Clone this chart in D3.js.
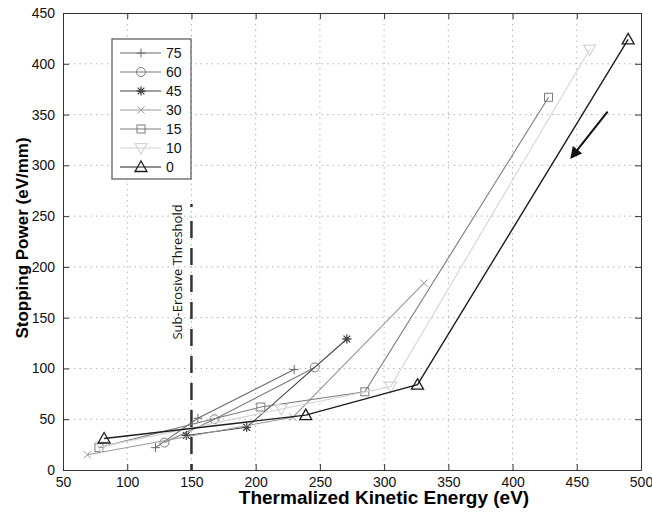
<!DOCTYPE html>
<html>
<head>
<meta charset="utf-8">
<script src="https://cdn.jsdelivr.net/npm/d3@7"></script>
<style>
  body { margin: 0; background: #fff; }
  svg { display: block; }
</style>
</head>
<body>
<div id="chart"></div>
<script>
'use strict';

// values: energy (eV) vs stopping power (eV/mm), by angle
var angles = ['75', '60', '45', '30', '15', '10', '0'];

var energy75 = [122, 155, 230];
var power75 = [22, 51, 99];
var energy60 = [129, 168, 246];
var power60 = [27, 50, 101];
var energy45 = [146, 193, 271];
var power45 = [34, 42, 129];
var energy30 = [69, 229, 331];
var power30 = [15, 52, 184];
var energy15 = [78, 204, 285, 428];
var power15 = [22, 62, 77, 367];
var energy10 = [80, 220, 305, 460];
var power10 = [23, 60, 82, 414];
var energy0 = [82, 239, 326, 490];
var power0 = [31, 54, 84, 424];

var xTicks = [50, 100, 150, 200, 250, 300, 350, 400, 450, 500];
var yTicks = [0, 50, 100, 150, 200, 250, 300, 350, 400, 450];

var thresholdEnergy = 150;
var thresholdTop = 262;
var arrowFrom = [474, 353];
var arrowTo = [446, 308];

var width = 652, height = 513;
var margin = { left: 63, right: 11, top: 13, bottom: 43 };
var innerWidth = width - margin.left - margin.right;
var innerHeight = height - margin.top - margin.bottom;

var styles = {
  '75': { color: '#6a6a6a', shape: 'plus' },
  '60': { color: '#7a7a7a', shape: 'circle' },
  '45': { color: '#444', shape: 'star' },
  '30': { color: '#9a9a9a', shape: 'cross' },
  '15': { color: '#7c7c7c', shape: 'square' },
  '10': { color: '#d4d4d4', shape: 'down' },
  '0': { color: '#1e1e1e', shape: 'up' }
};

var series = [
  { name: '75', x: energy75, y: power75 },
  { name: '60', x: energy60, y: power60 },
  { name: '45', x: energy45, y: power45 },
  { name: '30', x: energy30, y: power30 },
  { name: '15', x: energy15, y: power15 },
  { name: '10', x: energy10, y: power10 },
  { name: '0', x: energy0, y: power0 }
].map(function(s) {
  return { name: s.name, points: s.x.map(function(v, i) { return { e: v, p: s.y[i] }; }) };
});

var svg = d3.select('#chart').append('svg')
  .attr('width', width)
  .attr('height', height);

var chart = svg.append('g')
  .attr('transform', 'translate(' + margin.left + ',' + margin.top + ')');

var xScale = d3.scaleLinear().domain([50, 500]).range([0, innerWidth]);
var yScale = d3.scaleLinear().domain([0, 450]).range([innerHeight, 0]);

// dotted grid
chart.append('g').selectAll('line.vgrid')
  .data(xTicks.slice(1, -1))
  .enter().append('line')
  .attr('x1', function(d) { return xScale(d); })
  .attr('x2', function(d) { return xScale(d); })
  .attr('y1', 0).attr('y2', innerHeight)
  .attr('stroke', '#b4b4b4').attr('stroke-width', 1)
  .attr('stroke-dasharray', '1.5,4');

chart.append('g').selectAll('line.hgrid')
  .data(yTicks.slice(1, -1))
  .enter().append('line')
  .attr('y1', function(d) { return yScale(d); })
  .attr('y2', function(d) { return yScale(d); })
  .attr('x1', 0).attr('x2', innerWidth)
  .attr('stroke', '#b4b4b4').attr('stroke-width', 1)
  .attr('stroke-dasharray', '1.5,4');

// axes with inward ticks on all four sides
var font = '"Liberation Sans", Arial, sans-serif';

function styleAxis(g) {
  g.select('.domain').attr('stroke', '#333');
  g.selectAll('line').attr('stroke', '#333');
  g.selectAll('text').attr('font-family', font).attr('font-size', 14).attr('fill', '#111');
}

chart.append('g')
  .attr('transform', 'translate(0,' + innerHeight + ')')
  .call(d3.axisBottom(xScale).tickValues(xTicks).tickSizeInner(-6).tickSizeOuter(0).tickPadding(7))
  .call(styleAxis);

chart.append('g')
  .call(d3.axisLeft(yScale).tickValues(yTicks).tickSizeInner(-6).tickSizeOuter(0).tickPadding(8))
  .call(styleAxis);

chart.append('g')
  .call(d3.axisTop(xScale).tickValues(xTicks).tickSizeInner(-6).tickSizeOuter(0))
  .call(styleAxis)
  .call(function(g) { g.selectAll('text').remove(); });

chart.append('g')
  .attr('transform', 'translate(' + innerWidth + ',0)')
  .call(d3.axisRight(yScale).tickValues(yTicks).tickSizeInner(-6).tickSizeOuter(0))
  .call(styleAxis)
  .call(function(g) { g.selectAll('text').remove(); });

// axis titles
svg.append('text')
  .attr('x', 384)
  .attr('y', 504)
  .attr('text-anchor', 'middle')
  .attr('font-family', font)
  .attr('font-weight', 'bold')
  .attr('font-size', 19)
  .text('Thermalized Kinetic Energy (eV)');

svg.append('text')
  .attr('transform', 'translate(28,238) rotate(-90)')
  .attr('text-anchor', 'middle')
  .attr('font-family', font)
  .attr('font-weight', 'bold')
  .attr('font-size', 17)
  .text('Stopping Power (eV/mm)');

// sub-erosive threshold
chart.append('line')
  .attr('x1', xScale(thresholdEnergy)).attr('x2', xScale(thresholdEnergy))
  .attr('y1', yScale(thresholdTop)).attr('y2', yScale(0))
  .attr('stroke', '#333').attr('stroke-width', 2.5)
  .attr('stroke-dasharray', '3,14,17,10,17,10,17,10,17,10,17,10,17,10,17,10,17,10,17,10,17,10,17,10');

chart.append('text')
  .attr('transform', 'translate(' + (xScale(thresholdEnergy) - 9) + ',' + yScale(195) + ') rotate(-90)')
  .attr('text-anchor', 'middle')
  .attr('font-family', '"Open Sans", sans-serif')
  .attr('font-size', 13)
  .attr('fill', '#111')
  .text('Sub-Erosive Threshold');

// marker shapes
function drawMarker(g, shape, color) {
  var r = 4.5;
  if (shape === 'plus') {
    g.append('path').attr('d', 'M' + -r + ',0H' + r + 'M0,' + -r + 'V' + r)
      .attr('stroke', color).attr('fill', 'none');
  } else if (shape === 'cross') {
    var c = r * 0.8;
    g.append('path').attr('d', 'M' + -c + ',' + -c + 'L' + c + ',' + c + 'M' + -c + ',' + c + 'L' + c + ',' + -c)
      .attr('stroke', color).attr('fill', 'none');
  } else if (shape === 'star') {
    var k = r * 0.75;
    g.append('path').attr('d', 'M' + -r + ',0H' + r + 'M0,' + -r + 'V' + r +
        'M' + -k + ',' + -k + 'L' + k + ',' + k + 'M' + -k + ',' + k + 'L' + k + ',' + -k)
      .attr('stroke', color).attr('stroke-width', 1.3).attr('fill', 'none');
  } else if (shape === 'circle') {
    g.append('circle').attr('r', r).attr('stroke', color).attr('fill', 'none');
  } else if (shape === 'square') {
    g.append('rect').attr('x', -r + 0.5).attr('y', -r + 0.5).attr('width', 2 * r - 1).attr('height', 2 * r - 1)
      .attr('stroke', color).attr('fill', 'none');
  } else if (shape === 'up') {
    g.append('path').attr('d', 'M0,' + (-r - 1.5) + 'L' + (r + 1.5) + ',' + (r) + 'L' + (-r - 1.5) + ',' + r + 'Z')
      .attr('stroke', color).attr('stroke-width', 1.3).attr('fill', 'none');
  } else if (shape === 'down') {
    g.append('path').attr('d', 'M0,' + (r + 1.5) + 'L' + (r + 1.5) + ',' + (-r) + 'L' + (-r - 1.5) + ',' + (-r) + 'Z')
      .attr('stroke', color).attr('stroke-width', 1.2).attr('fill', 'none');
  }
}

// series lines and markers
var line = d3.line()
  .x(function(d) { return xScale(d.e); })
  .y(function(d) { return yScale(d.p); });

var groups = chart.selectAll('g.series')
  .data(series)
  .enter().append('g')
  .attr('class', 'series');

groups.append('path')
  .attr('d', function(d) { return line(d.points); })
  .attr('fill', 'none')
  .attr('stroke', function(d) { return styles[d.name].color; })
  .attr('stroke-width', function(d) { return d.name === '0' ? 1.4 : 1.1; });

groups.each(function(s) {
  d3.select(this).selectAll('g.mark')
    .data(s.points)
    .enter().append('g')
    .attr('class', 'mark')
    .attr('transform', function(d) { return 'translate(' + xScale(d.e) + ',' + yScale(d.p) + ')'; })
    .each(function() { drawMarker(d3.select(this), styles[s.name].shape, styles[s.name].color); });
});

// arrow
svg.append('defs').append('marker')
  .attr('id', 'head')
  .attr('viewBox', '0 0 10 10')
  .attr('refX', 8).attr('refY', 5)
  .attr('markerWidth', 6).attr('markerHeight', 6)
  .attr('orient', 'auto')
  .append('path')
  .attr('d', 'M0,0L10,5L0,10Z')
  .attr('fill', '#111');

chart.append('line')
  .attr('x1', xScale(arrowFrom[0])).attr('y1', yScale(arrowFrom[1]))
  .attr('x2', xScale(arrowTo[0])).attr('y2', yScale(arrowTo[1]))
  .attr('stroke', '#111').attr('stroke-width', 2)
  .attr('marker-end', 'url(#head)');

// legend
var legend = svg.append('g').attr('transform', 'translate(112,39)');

legend.append('rect')
  .attr('width', 79).attr('height', 140)
  .attr('fill', '#fff')
  .attr('stroke', '#555').attr('stroke-width', 1.2);

var entries = legend.selectAll('g.entry')
  .data(angles)
  .enter().append('g')
  .attr('class', 'entry')
  .attr('transform', function(d, i) { return 'translate(0,' + (14 + i * 19) + ')'; });

entries.append('line')
  .attr('x1', 8).attr('x2', 49)
  .attr('stroke', function(d) { return styles[d].color; })
  .attr('stroke-width', 1.1);

entries.append('g')
  .attr('transform', 'translate(29,0)')
  .each(function(d) { drawMarker(d3.select(this), styles[d].shape, styles[d].color); });

entries.append('text')
  .attr('x', 54).attr('y', 5)
  .attr('font-family', font)
  .attr('font-size', 14)
  .attr('fill', '#111')
  .text(function(d) { return d; });
</script>
</body>
</html>
